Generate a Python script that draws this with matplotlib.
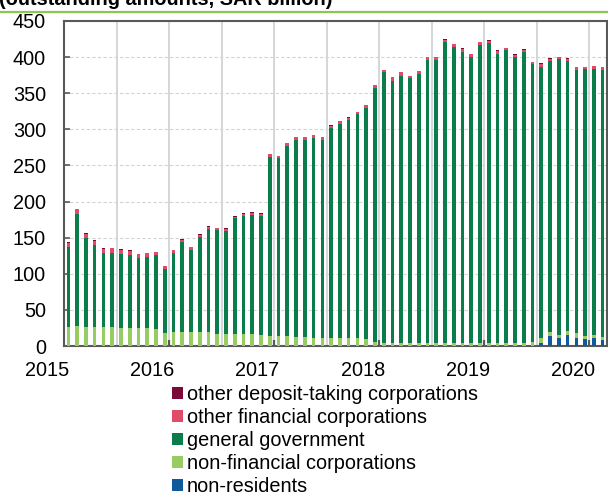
import matplotlib
matplotlib.use("Agg")
import matplotlib.pyplot as plt
from matplotlib.patches import Patch
from matplotlib.lines import Line2D
import numpy as np

# ---- data (SAR billion, monthly) ----
non_residents = [0]*54 + [4.2, 13.4, 10.6, 14.8, 11.6, 9.3, 10.6, 7.9]
non_financial = [26.9, 28.2, 26.9, 25.9, 25.9, 25.9, 25.5, 25.5, 24.5, 24.5, 23.6, 17.6,
                 19.9, 19.0, 19.0, 19.0, 19.0, 17.1, 17.1, 17.1, 16.2, 16.2, 15.7, 14.4,
                 13.4, 13.4, 12.0, 12.0, 11.6, 11.1, 11.1, 11.1, 11.1, 11.1, 9.7, 5.1,
                 4.6, 4.6, 4.6, 4.6, 4.6, 4.6, 4.6, 4.6, 4.6, 4.6, 4.6, 4.6,
                 4.6, 4.6, 4.6, 4.6, 4.6, 6.0, 6.4, 5.6, 5.1, 5.6, 6.0, 5.1, 5.1, 5.1]
general_government = [110.1, 154.2, 122.1, 113.9, 102.8, 102.8, 101.4, 100.4, 96.8, 98.6, 102.3, 89.3,
                      108.8, 125.0, 113.9, 131.9, 143.0, 143.1, 142.6, 159.8, 163.4, 165.3, 163.9, 247.6,
                      246.8, 263.9, 273.6, 273.2, 276.4, 274.1, 290.8, 296.8, 302.3, 310.2, 320.4, 351.9,
                      374.1, 363.0, 369.9, 366.2, 371.8, 391.7, 391.2, 415.8, 409.3, 402.8, 394.9, 412.1,
                      414.4, 400.4, 404.7, 394.9, 401.9, 383.8, 376.4, 375.0, 381.1, 373.6, 364.4, 368.5,
                      368.1, 369.0]
other_financial = [6.1, 7.0, 6.6, 5.0, 6.1, 7.0, 6.5, 5.0, 5.6, 5.2, 3.8, 3.3,
                   3.8, 3.3, 3.7, 3.3, 3.3, 3.3, 2.1, 2.3, 3.8, 3.3, 3.8, 3.3,
                   2.8, 3.8, 3.4, 3.8, 3.7, 3.8, 3.1, 3.3, 2.5, 2.3, 3.3, 4.2,
                   3.3, 4.2, 4.3, 3.3, 4.2, 3.8, 3.8, 2.6, 3.7, 4.2, 4.7, 3.7,
                   3.7, 3.9, 3.3, 3.8, 3.7, 3.3, 3.8, 3.7, 3.3, 3.7, 3.7, 3.3, 3.8, 4.2]
other_deposit_taking = [0.4, 0.4, 0.4, 1.5, 0.4, 0.4, 0.4, 1.5, 0.4, 0.4, 0.4, 0.4,
                        0.4, 0.4, 0.4, 0.4, 0.4, 0.4, 1.2, 0.4, 0.4, 0.4, 0.4, 0.4,
                        0.4, 0.4, 0.4, 0.4, 0.4, 0.4, 1.5, 0.4, 1.2, 0.4, 0.4, 0.4,
                        0.4, 0.4, 0.4, 0.4, 0.4, 0.4, 0.4, 1.5, 0.4, 0.4, 0.4, 0.4,
                        0.4, 0.4, 0.4, 0.4, 0.4, 0.4, 0.4, 0.4, 0.4, 0.4, 0.4, 0.4, 0.4, 0.4]
year_labels = ["2015", "2016", "2017", "2018", "2019", "2020"]
yticks = [0, 50, 100, 150, 200, 250, 300, 350, 400, 450]
title = "(outstanding amounts, SAR billion)"

series = [
    ("non-residents", non_residents, "#0F5A9B"),
    ("non-financial corporations", non_financial, "#98CC62"),
    ("general government", general_government, "#0A7D4A"),
    ("other financial corporations", other_financial, "#DF4B68"),
    ("other deposit-taking corporations", other_deposit_taking, "#7C0A38"),
]

plt.rcParams['font.family'] = ['Liberation Sans', 'DejaVu Sans']
FS = 14.3
W, H = 608, 495
fig = plt.figure(figsize=(W/100, H/100), dpi=100)
ax = fig.add_axes([64/W, 1-346/H, (607-64)/W, (346-21)/H])

n = len(general_government)
x = np.arange(n)
bottom = np.zeros(n)
for name, vals, col in series:
    v = np.array(vals, dtype=float)
    ax.bar(x, v, width=0.42, bottom=bottom, color=col, linewidth=0, zorder=3)
    bottom += v

# gridlines
ax.set_yticks(yticks)
ax.yaxis.grid(True, color="#D4D4D4", linestyle=(0, (3, 2)), linewidth=0.8, zorder=0)
for b in range(6, n, 6):
    ax.axvline(b - 0.5, color="#C9CDD0", linewidth=1.1, zorder=1)

# yearly tick marks (no labels); year labels drawn offset as in the original
ax.set_xticks([11.5 + 12*k for k in range(5)])
ax.set_xticklabels([])
ax.tick_params(axis='x', which='major', direction='in', length=4, width=1.6, color='#595959')
for k, lab in enumerate(year_labels):
    ax.annotate(lab, xy=(-2.4 + 12*k, 0), xycoords=('data', 'axes fraction'),
                xytext=(0, -10.5), textcoords='offset points',
                ha='center', va='top', fontsize=FS, annotation_clip=False)
ax.tick_params(axis='y', which='major', direction='in', length=4, width=1.2, color='#595959',
               pad=13, labelsize=FS)
for s in ax.spines.values():
    s.set_color('#595959')
    s.set_linewidth(1.5)

ax.set_xlim(-0.5, n - 0.5)
ax.set_ylim(0, 450)

# title and green rule
fig.text(-1/W, 1-4.7/H, title, fontsize=FS, fontweight='bold', ha='left', va='baseline')
fig.add_artist(Line2D([0, 1], [1-11.5/H, 1-11.5/H], color="#8CC84B", linewidth=1.6,
                      transform=fig.transFigure))

# legend
handles = [Patch(facecolor=c, edgecolor='none') for _, _, c in reversed(series)]
labels = [nm for nm, _, _ in reversed(series)]
fig.legend(handles, labels, loc='upper left', bbox_to_anchor=(172.3/W, 1-385.0/H),
           frameon=False, fontsize=FS, handlelength=0.55, handleheight=0.55,
           handletextpad=0.17, labelspacing=0.2, borderpad=0, borderaxespad=0)

fig.savefig("out.png", dpi=100)
